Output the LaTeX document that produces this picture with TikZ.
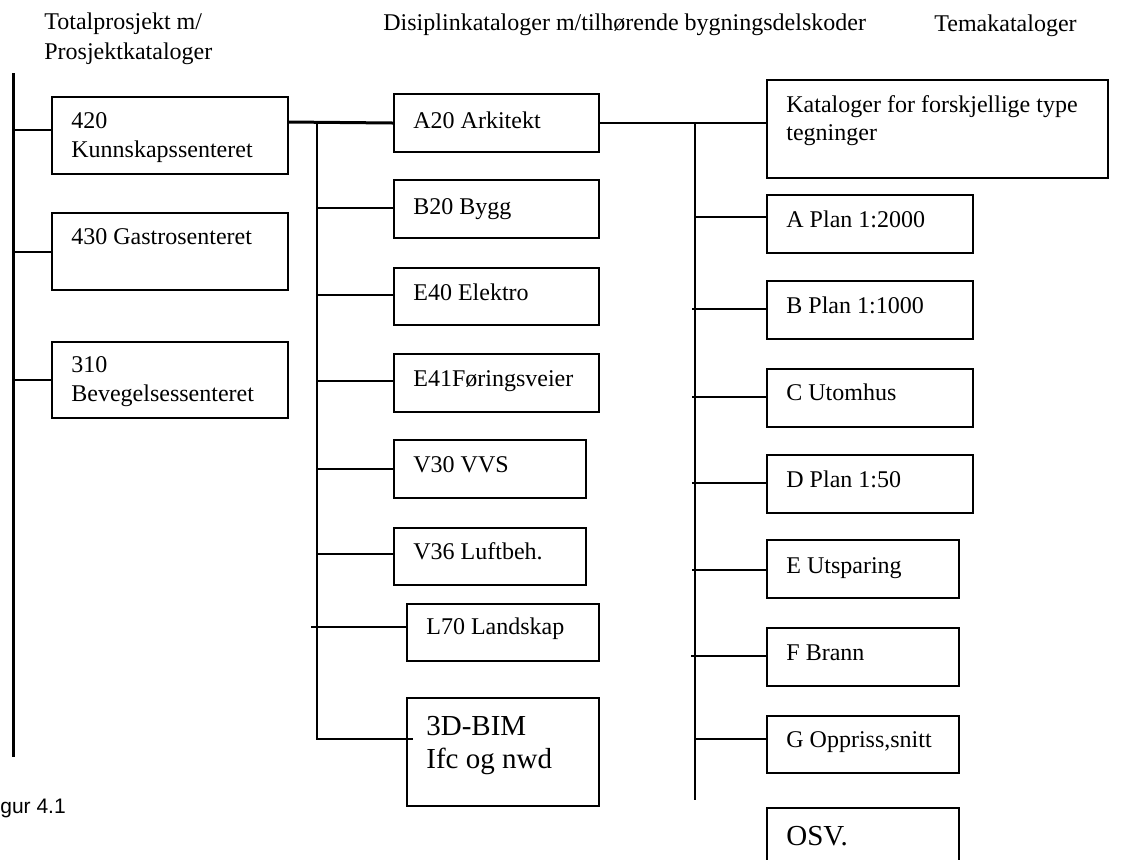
\documentclass[tikz,border=0pt]{standalone}
\usepackage{fontspec}
\setmainfont{Liberation Serif}
\setsansfont{Liberation Sans}
\usetikzlibrary{calc}
\tikzset{
  box/.style={draw, line width=1pt, inner sep=0pt, anchor=north west},
  txt/.style={anchor=base west, inner sep=0pt, font=\fontsize{12}{14.5}\selectfont},
  bigtxt/.style={anchor=base west, inner sep=0pt, font=\fontsize{14.5}{16.5}\selectfont},
  conn/.style={line width=1pt},
  bus/.style={line width=1.5pt},
}
\begin{document}
\begin{tikzpicture}[x=0.5pt,y=-0.5pt]
\useasboundingbox (0,0) rectangle (1131,859);

% headers
\node[txt] (h1a) at (44,29) {Totalprosjekt m/};
\node[txt] (h1b) at (44,59) {Prosjektkataloger};
\node[txt] (h2) at (383,30) {Disiplinkataloger m/tilhørende bygningsdelskoder};
\node[txt] (h3) at (934,31) {Temakataloger};

% column 1
\node[box, minimum width=118pt, minimum height=38.5pt] (b420) at (51,96) {};
\node[box, minimum width=118pt, minimum height=38.5pt] (b430) at (51,212) {};
\node[box, minimum width=118pt, minimum height=38pt] (b310) at (51,341) {};
\node[txt] (t420a) at ($(b420.north west)+(20,32)$) {420};
\node[txt] (t420b) at ($(b420.north west)+(20,61)$) {Kunnskapssenteret};
\node[txt] (t430) at ($(b430.north west)+(20,32)$) {430 Gastrosenteret};
\node[txt] (t310a) at ($(b310.north west)+(20,31)$) {310};
\node[txt] (t310b) at ($(b310.north west)+(20,60)$) {Bevegelsessenteret};

% column 2
\node[box, minimum width=102.5pt, minimum height=29pt] (a20) at (393,93) {};
\node[box, minimum width=102.5pt, minimum height=29pt] (b20) at (393,179) {};
\node[box, minimum width=102.5pt, minimum height=28.5pt] (e40) at (393,267) {};
\node[box, minimum width=102.5pt, minimum height=29pt] (e41) at (393,353) {};
\node[box, minimum width=96pt, minimum height=29pt] (v30) at (393,439) {};
\node[box, minimum width=96pt, minimum height=28.5pt] (v36) at (393,527) {};
\node[box, minimum width=96pt, minimum height=28.5pt] (l70) at (406,603) {};
\node[box, minimum width=96pt, minimum height=54pt] (bim) at (406,697) {};
\node[txt] (ta20) at ($(a20.north west)+(20,35)$) {A20 Arkitekt};
\node[txt] (tb20) at ($(b20.north west)+(20,35)$) {B20 Bygg};
\node[txt] (te40) at ($(e40.north west)+(20,33)$) {E40 Elektro};
\node[txt] (te41) at ($(e41.north west)+(20,33)$) {E41Føringsveier};
\node[txt] (tv30) at ($(v30.north west)+(20,33)$) {V30 VVS};
\node[txt] (tv36) at ($(v36.north west)+(20,32)$) {V36 Luftbeh.};
\node[txt] (tl70) at ($(l70.north west)+(20,31)$) {L70 Landskap};
\node[bigtxt] (tbima) at ($(bim.north west)+(20,38)$) {3D-BIM};
\node[bigtxt] (tbimb) at ($(bim.north west)+(20,71)$) {Ifc og nwd};

% column 3
\node[box, minimum width=170.5pt, minimum height=49pt] (kat) at (766,79) {};
\node[box, minimum width=103pt, minimum height=29pt] (pa) at (766,194) {};
\node[box, minimum width=103pt, minimum height=29pt] (pb) at (766,280) {};
\node[box, minimum width=103pt, minimum height=29pt] (pc) at (766,368) {};
\node[box, minimum width=103pt, minimum height=29pt] (pd) at (766,454) {};
\node[box, minimum width=96pt, minimum height=29pt] (pe) at (766,539) {};
\node[box, minimum width=96pt, minimum height=29pt] (pf) at (766,627) {};
\node[box, minimum width=96pt, minimum height=28.5pt] (pg) at (766,715) {};
\node[box, minimum width=96pt, minimum height=45pt] (osv) at (766,807) {};
\node[txt] (tkata) at ($(kat.north west)+(20,33)$) {Kataloger for forskjellige type};
\node[txt] (tkatb) at ($(kat.north west)+(20,61)$) {tegninger};
\node[txt] (tpa) at ($(pa.north west)+(20,33)$) {A Plan 1:2000};
\node[txt] (tpb) at ($(pb.north west)+(20,33)$) {B Plan 1:1000};
\node[txt] (tpc) at ($(pc.north west)+(20,32)$) {C Utomhus};
\node[txt] (tpd) at ($(pd.north west)+(20,33)$) {D Plan 1:50};
\node[txt] (tpe) at ($(pe.north west)+(20,34)$) {E Utsparing};
\node[txt] (tpf) at ($(pf.north west)+(20,33)$) {F Brann};
\node[txt] (tpg) at ($(pg.north west)+(20,32)$) {G Oppriss,snitt};
\node[bigtxt] (tosv) at ($(osv.north west)+(20,38)$) {OSV.};

% buses
\coordinate (bus1top) at (13,73);
\coordinate (bus1bot) at (13,757);
\coordinate (bus2top) at (317,122);
\coordinate (bus2bot) at (317,739);
\coordinate (bus3top) at (695,122);
\coordinate (bus3bot) at (695,800);

\draw[bus] (bus1top) -- (bus1bot);
\draw[conn] ($(b420.north west)+(0,34)$) coordinate (c1) -- (bus1top |- c1);
\draw[conn] ($(b430.north west)+(0,40)$) coordinate (c2) -- (bus1top |- c2);
\draw[conn] ($(b310.north west)+(0,39)$) coordinate (c3) -- (bus1top |- c3);

% column 1 to column 2
\draw[line width=1.5pt] ($(b420.north east)+(0,26)$) -- (a20.west);
\draw[conn] (bus2top) -- (bus2bot) -- ($(bim.north west)+(7,42)$);
\draw[conn] ($(b20.north west)+(0,29)$) coordinate (d2) -- (bus2top |- d2);
\draw[conn] ($(e40.north west)+(0,28)$) coordinate (d3) -- (bus2top |- d3);
\draw[conn] ($(e41.north west)+(0,28)$) coordinate (d4) -- (bus2top |- d4);
\draw[conn] ($(v30.north west)+(0,30)$) coordinate (d5) -- (bus2top |- d5);
\draw[conn] ($(v36.north west)+(0,27)$) coordinate (d6) -- (bus2top |- d6);
\draw[conn] ($(l70.north west)+(0,24)$) coordinate (d7) -- ($(bus2top |- d7)+(-6,0)$);

% column 2 to column 3
\draw[conn] (a20.east) -- (kat.west |- a20.east);
\draw[conn] (bus3top) -- (bus3bot);
\draw[conn] ($(pa.north west)+(0,23)$) coordinate (e1) -- ($(bus3top |- e1)+(-1,0)$);
\draw[conn] ($(pb.north west)+(0,29)$) coordinate (e2) -- ($(bus3top |- e2)+(-3,0)$);
\draw[conn] ($(pc.north west)+(0,29)$) coordinate (e3) -- ($(bus3top |- e3)+(-3,0)$);
\draw[conn] ($(pd.north west)+(0,29)$) coordinate (e4) -- ($(bus3top |- e4)+(-3,0)$);
\draw[conn] ($(pe.north west)+(0,31)$) coordinate (e5) -- ($(bus3top |- e5)+(-3,0)$);
\draw[conn] ($(pf.north west)+(0,29)$) coordinate (e6) -- ($(bus3top |- e6)+(-4,0)$);
\draw[conn] ($(pg.north west)+(0,24)$) coordinate (e7) -- ($(bus3top |- e7)+(-1,0)$);

% caption (cut at the left edge)
\node[anchor=base west, inner sep=0pt, font=\fontsize{10.5}{12}\sffamily] (fig) at (-17.5,813) {Figur 4.1};
\end{tikzpicture}
\end{document}
